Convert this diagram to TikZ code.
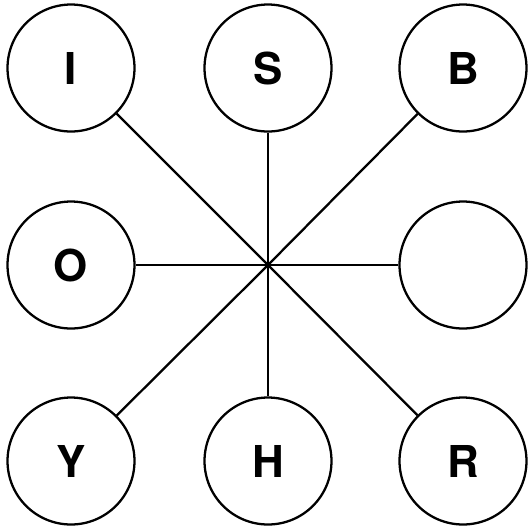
\documentclass[tikz,border=0pt]{standalone}
\usepackage{fontspec}
\setmainfont{TeX Gyre Heros}
\tikzset{
letra/.style={circle,draw,line width=1.3pt,fill=white,minimum size=2.54cm,inner sep=0pt,font=\fontsize{25}{25}\selectfont\bfseries},
radio/.style={black,line width=1.3pt}
}
\begin{document}
\begin{tikzpicture}[x=0.02cm,y=-0.02cm]
    \useasboundingbox (0,0) rectangle (531,529);
    \coordinate (centro) at (268,265);

    \node[letra] (I) at (71,68) {I};
    \node[letra] (S) at (268,68) {S};
    \node[letra] (B) at (463,68) {B};
    \node[letra] (O) at (71,265) {O};
    \node[letra] (vacio) at (463,265) {};
    \node[letra] (Y) at (71,461) {Y};
    \node[letra] (H) at (268,461) {H};
    \node[letra] (R) at (463,461) {R};

    \foreach \n in {I,S,B,O,vacio,Y,H,R}{
    \draw[radio] (centro)--(\n);
    }
\end{tikzpicture}
\end{document}
